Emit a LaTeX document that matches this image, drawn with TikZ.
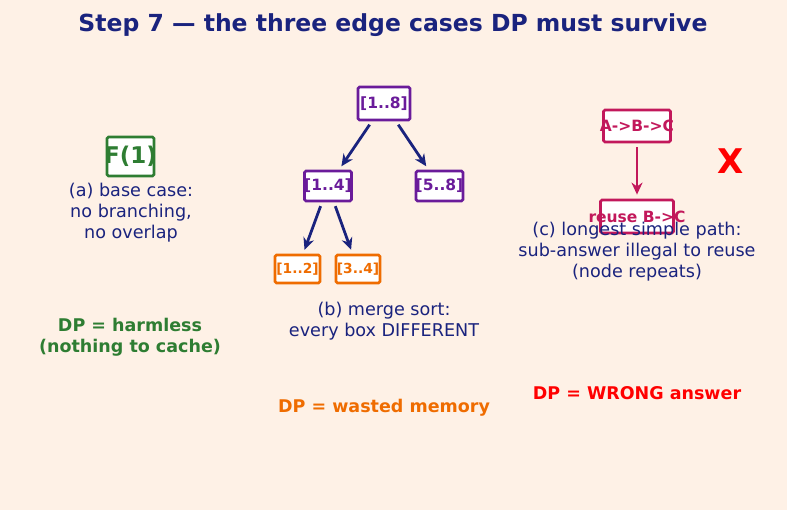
\documentclass[tikz,border=0pt]{standalone}
\usepackage{fontspec}
\setmainfont{DejaVu Sans}
\usetikzlibrary{arrows.meta}

\definecolor{bgcream}{HTML}{FEF1E6}
\definecolor{navy}{HTML}{1A237E}
\definecolor{dpgreen}{HTML}{2E7D32}
\definecolor{dppurple}{HTML}{6A1B9A}
\definecolor{dporange}{HTML}{EF6C00}
\definecolor{dpcrimson}{HTML}{C2185B}
\definecolor{dpred}{HTML}{FF0000}

% box text may run past the frame, as in the original
\newcommand{\spill}[1]{\makebox[0pt][c]{#1}}

\begin{document}
\begin{tikzpicture}[
  x=1pt, y=-1pt,
  every node/.style={inner sep=0pt, align=center},
  box/.style={fill=white, line width=2.8pt, rounded corners=1.5pt, font=\fontsize{15.5}{17}\selectfont\bfseries},
  caption/.style={text=navy, font=\fontsize{17.6}{21}\selectfont},
  verdict/.style={font=\fontsize{17.5}{21}\selectfont\bfseries},
  arrow/.style={line width=2.8pt, -{Stealth[length=12pt, width=11pt]}, shorten <=4pt, shorten >=4pt}
]
  \fill[bgcream] (0,0) rectangle (787,510);
  \useasboundingbox (0,0) rectangle (787,510);

  \node (title) at (393,25) [text=navy, font=\fontsize{23.5}{26}\selectfont\bfseries] {Step 7 — the three edge cases DP must survive};

  % (a) base case
  \node (base) at (130.5,156.5) [box, draw=dpgreen, text=dpgreen, minimum width=47pt, minimum height=39pt, font=\fontsize{23}{25}\selectfont\bfseries] {\spill{F(1)}};
  \node (capa) at (131,213) [caption] {(a) base case:\\no branching,\\no overlap};
  \node (harm) at (130,337) [verdict, text=dpgreen] {DP = harmless\\(nothing to cache)};

  % (b) merge sort
  \node (all) at (384,103.5) [box, draw=dppurple, text=dppurple, minimum width=52pt, minimum height=33pt] {\spill{[1..8]}};
  \node (left) at (328,186) [box, draw=dppurple, text=dppurple, minimum width=47pt, minimum height=30pt] {\spill{[1..4]}};
  \node (right) at (439.5,186) [box, draw=dppurple, text=dppurple, minimum width=47pt, minimum height=30pt] {\spill{[5..8]}};
  \node (ll) at (297.5,269) [box, draw=dporange, text=dporange, minimum width=45pt, minimum height=28pt, font=\fontsize{13.8}{15}\selectfont\bfseries] {\spill{[1..2]}};
  \node (lr) at (358,269) [box, draw=dporange, text=dporange, minimum width=44pt, minimum height=28pt, font=\fontsize{13.8}{15}\selectfont\bfseries] {\spill{[3..4]}};
  \node (capb) at (384,321.5) [caption] {(b) merge sort:\\every box DIFFERENT};
  \node (waste) at (384,408) [verdict, text=dporange] {DP = wasted memory};

  \draw [arrow, navy] (all) -- (left);
  \draw [arrow, navy] (all) -- (right);
  \draw [arrow, navy] (left) -- (ll);
  \draw [arrow, navy] (left) -- (lr);

  % (c) longest simple path
  \node (path) at (637,126) [box, draw=dpcrimson, text=dpcrimson, minimum width=67pt, minimum height=32pt] {\spill{A->B->C}};
  \node (reuse) at (637,216.5) [box, draw=dpcrimson, text=dpcrimson, minimum width=73pt, minimum height=33pt] {\spill{reuse B->C}};
  \draw [arrow, dpcrimson] (path) -- (reuse);
  \node (cross) at (731,161) [text=dpred, font=\fontsize{34}{36}\selectfont\bfseries] {X};
  \node (capc) at (637,252) [caption] {(c) longest simple path:\\sub-answer illegal to reuse\\(node repeats)};
  \node (wrong) at (637,393) [verdict, text=dpred] {DP = WRONG answer};
\end{tikzpicture}
\end{document}
